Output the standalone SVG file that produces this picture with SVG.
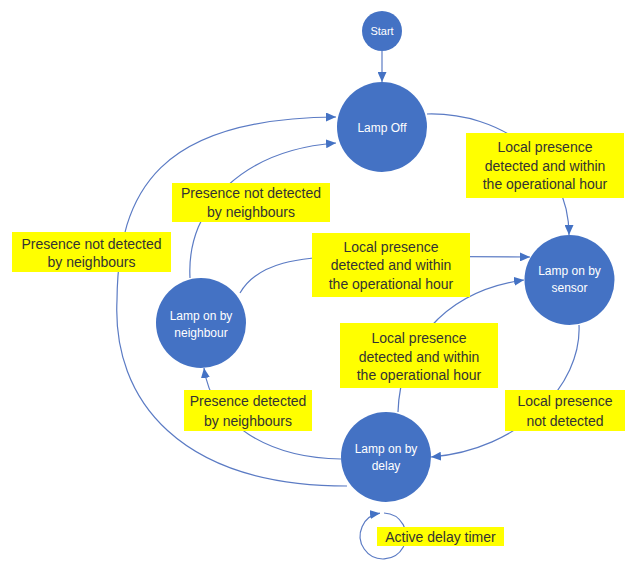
<svg xmlns="http://www.w3.org/2000/svg" width="634" height="561" viewBox="0 0 634 561">
<style>
.node circle{fill:#4472C4}
.node text{fill:#ffffff;font-family:"Liberation Sans",Arial,sans-serif;font-size:12px;text-anchor:middle}
.edge{fill:none;stroke:#5b7bc4;stroke-width:1.2;marker-end:url(#arr)}
.lbl rect{fill:#ffff00}
.lbl text{fill:#333333;font-family:"Liberation Sans",Arial,sans-serif;font-size:14px;text-anchor:middle}
</style>
<defs>
<marker id="arr" markerUnits="userSpaceOnUse" markerWidth="11" markerHeight="9" refX="10" refY="4.5" orient="auto">
<path d="M0,0 L10,4.5 L0,9 z" fill="#4472C4"/>
</marker>
</defs>
<rect width="634" height="561" fill="#ffffff"/>
<g id="connectors">
<path class="edge" d="M382,51 L382,82"/>
<path class="edge" d="M427,114 C500,112 569,160 569,235"/>
<path class="edge" d="M190,278 C186,205 245,150 336,143"/>
<path class="edge" d="M347,486 C180,486 112,400 117,300 C118,190 160,118 336,117"/>
<path class="edge" d="M240,293 C258,262 300,257 350,256 L530,257"/>
<path class="edge" d="M398,412 C400,350 440,292 524,280"/>
<path class="edge" d="M579,325 C582,385 520,450 431,457"/>
<path class="edge" d="M341,459 C270,458 212,425 204,368"/>
<path class="edge" d="M384,513 A23,23 0 1 1 380,513.2"/>
</g>
<g id="edge-labels">
<g class="lbl" id="lbl-off-sensor"><rect x="466" y="133" width="158" height="65"/><text x="545" y="151.5">Local presence</text><text x="545" y="170.5">detected and within</text><text x="545" y="189">the operational hour</text></g>
<g class="lbl" id="lbl-neigh-off"><rect x="172" y="183" width="158" height="39"/><text x="251" y="198">Presence not detected</text><text x="251" y="216.5">by neighbours</text></g>
<g class="lbl" id="lbl-delay-off"><rect x="12" y="232" width="159" height="40"/><text x="91.5" y="249">Presence not detected</text><text x="91.5" y="267">by neighbours</text></g>
<g class="lbl" id="lbl-neigh-sensor"><rect x="312" y="233" width="158" height="64"/><text x="391" y="251.5">Local presence</text><text x="391" y="270">detected and within</text><text x="391" y="288.5">the operational hour</text></g>
<g class="lbl" id="lbl-delay-sensor"><rect x="340" y="323" width="158" height="65"/><text x="419" y="343">Local presence</text><text x="419" y="361.5">detected and within</text><text x="419" y="380">the operational hour</text></g>
<g class="lbl" id="lbl-delay-neigh"><rect x="184" y="390" width="128" height="41"/><text x="248" y="406">Presence detected</text><text x="248" y="425.5">by neighbours</text></g>
<g class="lbl" id="lbl-sensor-delay"><rect x="505" y="390" width="120" height="41"/><text x="565" y="406">Local presence</text><text x="565" y="425.5">not detected</text></g>
<g class="lbl" id="lbl-delay-self"><rect x="377" y="527" width="127" height="19"/><text x="440.5" y="541.5">Active delay timer</text></g>
</g>
<g class="node" id="start"><circle cx="382" cy="31" r="20"/><text x="382" y="35" style="font-size:11px">Start</text></g>
<g class="node" id="lamp-off"><circle cx="382" cy="127" r="45"/><text x="382" y="131.5">Lamp Off</text></g>
<g class="node" id="lamp-sensor"><circle cx="569.5" cy="280" r="45"/><text x="569.5" y="275">Lamp on by</text><text x="569.5" y="292">sensor</text></g>
<g class="node" id="lamp-neighbour"><circle cx="201" cy="323" r="45"/><text x="201" y="320">Lamp on by</text><text x="201" y="336.5">neighbour</text></g>
<g class="node" id="lamp-delay"><circle cx="386" cy="457" r="45"/><text x="386" y="453">Lamp on by</text><text x="386" y="470">delay</text></g>
</svg>
